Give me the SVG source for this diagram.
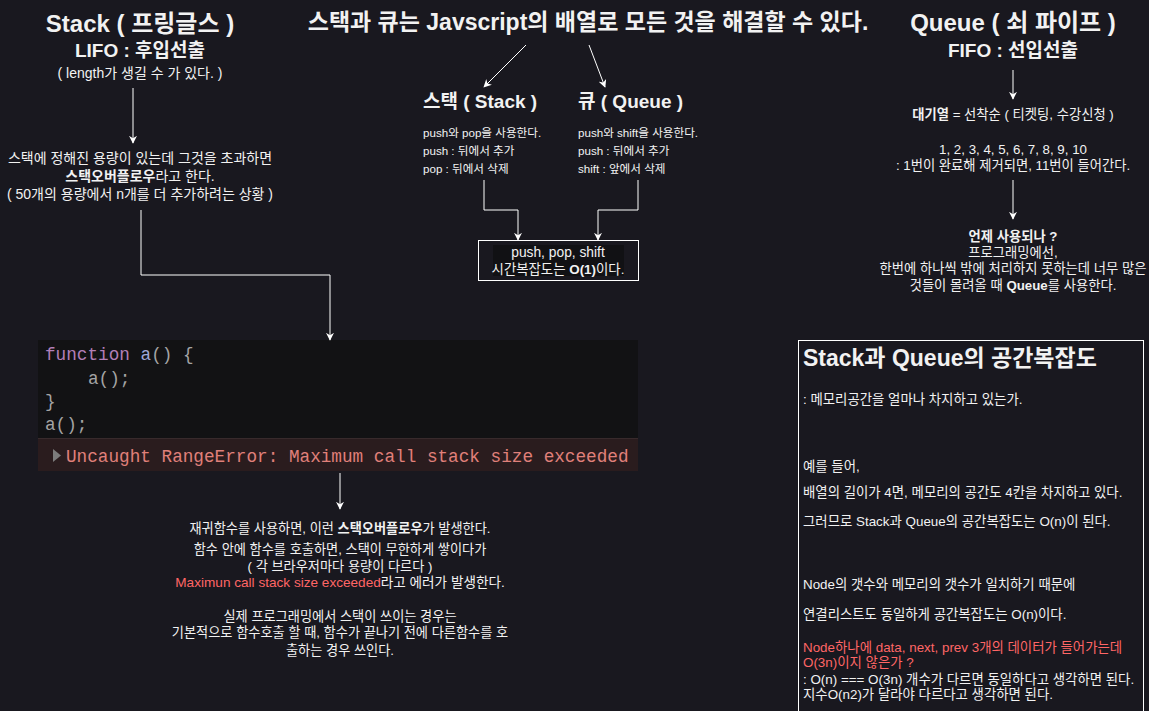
<svg xmlns="http://www.w3.org/2000/svg" width="1149" height="711" viewBox="0 0 1149 711">
<style>
text{font-family:"Liberation Sans","Noto Sans CJK KR",sans-serif;fill:#f2f2f2}
.h1{font-size:24px;font-weight:bold}
.h2{font-size:19px;font-weight:bold}
.h3{font-size:19px;font-weight:bold}
.t14{font-size:14px}
.t135{font-size:13.4px}
.t13{font-size:13.3px}
.t115{font-size:11.6px}
.b{font-weight:bold}
.red{fill:#ff6666}
.mid{text-anchor:middle}
.code{font-family:"Liberation Mono","DejaVu Sans Mono",monospace;font-size:17.7px}
.edge{fill:none;stroke:#ffffff;stroke-width:1}
</style>
<defs>
<marker id="arr" viewBox="0 0 10 10" refX="9" refY="5" markerWidth="8" markerHeight="8" markerUnits="userSpaceOnUse" orient="auto">
<path d="M0,0 L10,5 L0,10 L3,5 z" fill="#ffffff"/>
</marker>
</defs>
<rect width="1149" height="711" fill="#19181f"/>

<g id="title">
<text class="mid" x="588" y="30" style="font-size:23px;font-weight:bold">스택과 큐는 Javscript의 배열로 모든 것을 해결할 수 있다.</text>
</g>

<g id="stack-head">
<text class="h1 mid" x="140" y="32">Stack ( 프링글스 )</text>
<text class="h2 mid" x="140" y="57">LIFO : 후입선출</text>
<text class="t14 mid" x="140" y="78">( length가 생길 수 가 있다. )</text>
</g>

<g id="stack-overflow">
<text class="t14 mid" x="140" y="163">스택에 정해진 용량이 있는데 그것을 초과하면</text>
<text class="t14 mid" x="140" y="181"><tspan class="b">스택오버플로우</tspan>라고 한다.</text>
<text class="t14 mid" x="140" y="199">( 50개의 용량에서 n개를 더 추가하려는 상황 )</text>
</g>

<g id="stack-label">
<text class="h3" x="423" y="108">스택 ( Stack )</text>
<text class="t115" x="423" y="137">push와 pop을 사용한다.</text>
<text class="t115" x="423" y="155">push : 뒤에서 추가</text>
<text class="t115" x="423" y="173">pop : 뒤에서 삭제</text>
</g>

<g id="queue-label">
<text class="h3" x="578" y="108">큐 ( Queue )</text>
<text class="t115" x="578" y="137">push와 shift을 사용한다.</text>
<text class="t115" x="578" y="155">push : 뒤에서 추가</text>
<text class="t115" x="578" y="173">shift : 앞에서 삭제</text>
</g>

<g id="time-complexity">
<rect x="478.5" y="240.5" width="160" height="40" fill="none" stroke="#ffffff"/>
<rect x="493" y="245" width="131" height="31" fill="#111114"/>
<text class="mid" x="558" y="257" style="font-size:13.8px">push, pop, shift</text>
<text class="mid" x="558" y="274" style="font-size:13.4px">시간복잡도는 <tspan class="b">O(1)</tspan>이다.</text>
</g>

<g id="queue-head">
<text class="h1 mid" x="1013" y="31">Queue ( 쇠 파이프 )</text>
<text class="h2 mid" x="1013" y="57">FIFO : 선입선출</text>
</g>

<g id="queue-desc">
<text class="t13 mid" x="1013" y="119"><tspan class="b">대기열</tspan> = 선착순 ( 티켓팅, 수강신청 )</text>
<text class="t13 mid" x="1013" y="154">1, 2, 3, 4, 5, 6, 7, 8, 9, 10</text>
<text class="t13 mid" x="1013" y="170">: 1번이 완료해 제거되면, 11번이 들어간다.</text>
</g>

<g id="queue-usage">
<text class="t13 mid b" x="1013" y="241">언제 사용되나 ?</text>
<text class="t13 mid" x="1013" y="257">프로그래밍에선,</text>
<text class="t13 mid" x="1013" y="273">한번에 하나씩 밖에 처리하지 못하는데 너무 많은</text>
<text class="t13 mid" x="1013" y="290">것들이 몰려올 때 <tspan class="b">Queue</tspan>를 사용한다.</text>
</g>

<g id="code-image">
<rect x="38" y="340" width="600" height="131" fill="#121214"/>
<rect x="38" y="438" width="600" height="33" fill="#2a1c1e"/>
<line x1="38" y1="438.5" x2="638" y2="438.5" stroke="#382a2c"/>
<text class="code" x="45" y="360"><tspan style="fill:#b27fb8">function</tspan> <tspan style="fill:#9ea6d8">a</tspan><tspan style="fill:#a4a4a4">() {</tspan></text>
<text class="code" x="88" y="384" style="fill:#a4a4a4">a();</text>
<text class="code" x="45" y="407" style="fill:#a4a4a4">}</text>
<text class="code" x="45" y="430" style="fill:#a4a4a4">a();</text>
<path d="M53,449 L61,455.5 L53,462 z" fill="#7c7c7c"/>
<text class="code" x="66" y="462" style="fill:#e0807a">Uncaught RangeError: Maximum call stack size exceeded</text>
</g>

<g id="recursion-desc">
<text class="mid" x="340" y="533" style="font-size:13.2px">재귀함수를 사용하면, 이런 <tspan class="b">스택오버플로우</tspan>가 발생한다.</text>
<text class="mid" x="340" y="554" style="font-size:13.2px">함수 안에 함수를 호출하면, 스택이 무한하게 쌓이다가</text>
<text class="mid" x="340" y="571" style="font-size:13.2px">( 각 브라우저마다 용량이 다르다 )</text>
<text class="mid" x="340" y="587" style="font-size:13.6px"><tspan class="red">Maximun call stack size exceeded</tspan>라고 에러가 발생한다.</text>
<text class="mid" x="340" y="621" style="font-size:13.2px">실제 프로그래밍에서 스택이 쓰이는 경우는</text>
<text class="mid" x="340" y="637" style="font-size:13.2px">기본적으로 함수호출 할 때, 함수가 끝나기 전에 다른함수를 호</text>
<text class="mid" x="340" y="655" style="font-size:13.2px">출하는 경우 쓰인다.</text>
</g>

<g id="space-complexity">
<rect x="798.5" y="340.5" width="345" height="380" fill="none" stroke="#ffffff"/>
<text x="803" y="366" style="font-size:23px;font-weight:bold">Stack과 Queue의 공간복잡도</text>
<text class="t135" x="803" y="404">: 메모리공간을 얼마나 차지하고 있는가.</text>
<text class="t135" x="803" y="471">예를 들어,</text>
<text class="t135" x="803" y="497">배열의 길이가 4면, 메모리의 공간도 4칸을 차지하고 있다.</text>
<text class="t135" x="803" y="526">그러므로 Stack과 Queue의 공간복잡도는 O(n)이 된다.</text>
<text class="t135" x="803" y="589">Node의 갯수와 메모리의 갯수가 일치하기 때문에</text>
<text class="t135" x="803" y="619">연결리스트도 동일하게 공간복잡도는 O(n)이다.</text>
<text class="t135 red" x="803" y="652">Node하나에 data, next, prev 3개의 데이터가 들어가는데</text>
<text class="t135 red" x="803" y="667">O(3n)이지 않은가 ?</text>
<text class="t135" x="803" y="684">: O(n) === O(3n) 개수가 다르면 동일하다고 생각하면 된다.</text>
<text class="t135" x="803" y="699">지수O(n2)가 달라야 다르다고 생각하면 된다.</text>
</g>

<g id="connectors">
<path class="edge" d="M133,88 L133,143" marker-end="url(#arr)"/>
<path class="edge" d="M141,210 L141,275 L330,275 L330,340" marker-end="url(#arr)"/>
<path class="edge" d="M526,45 L484,87" marker-end="url(#arr)"/>
<path class="edge" d="M589,45 L605,87" marker-end="url(#arr)"/>
<path class="edge" d="M484,180 L484,210 L518,210 L518,240" marker-end="url(#arr)"/>
<path class="edge" d="M638,180 L638,210 L598,210 L598,240" marker-end="url(#arr)"/>
<path class="edge" d="M1013,70 L1013,99" marker-end="url(#arr)"/>
<path class="edge" d="M1013,180 L1013,219" marker-end="url(#arr)"/>
<path class="edge" d="M340,473 L340,509" marker-end="url(#arr)"/>
</g>
</svg>
